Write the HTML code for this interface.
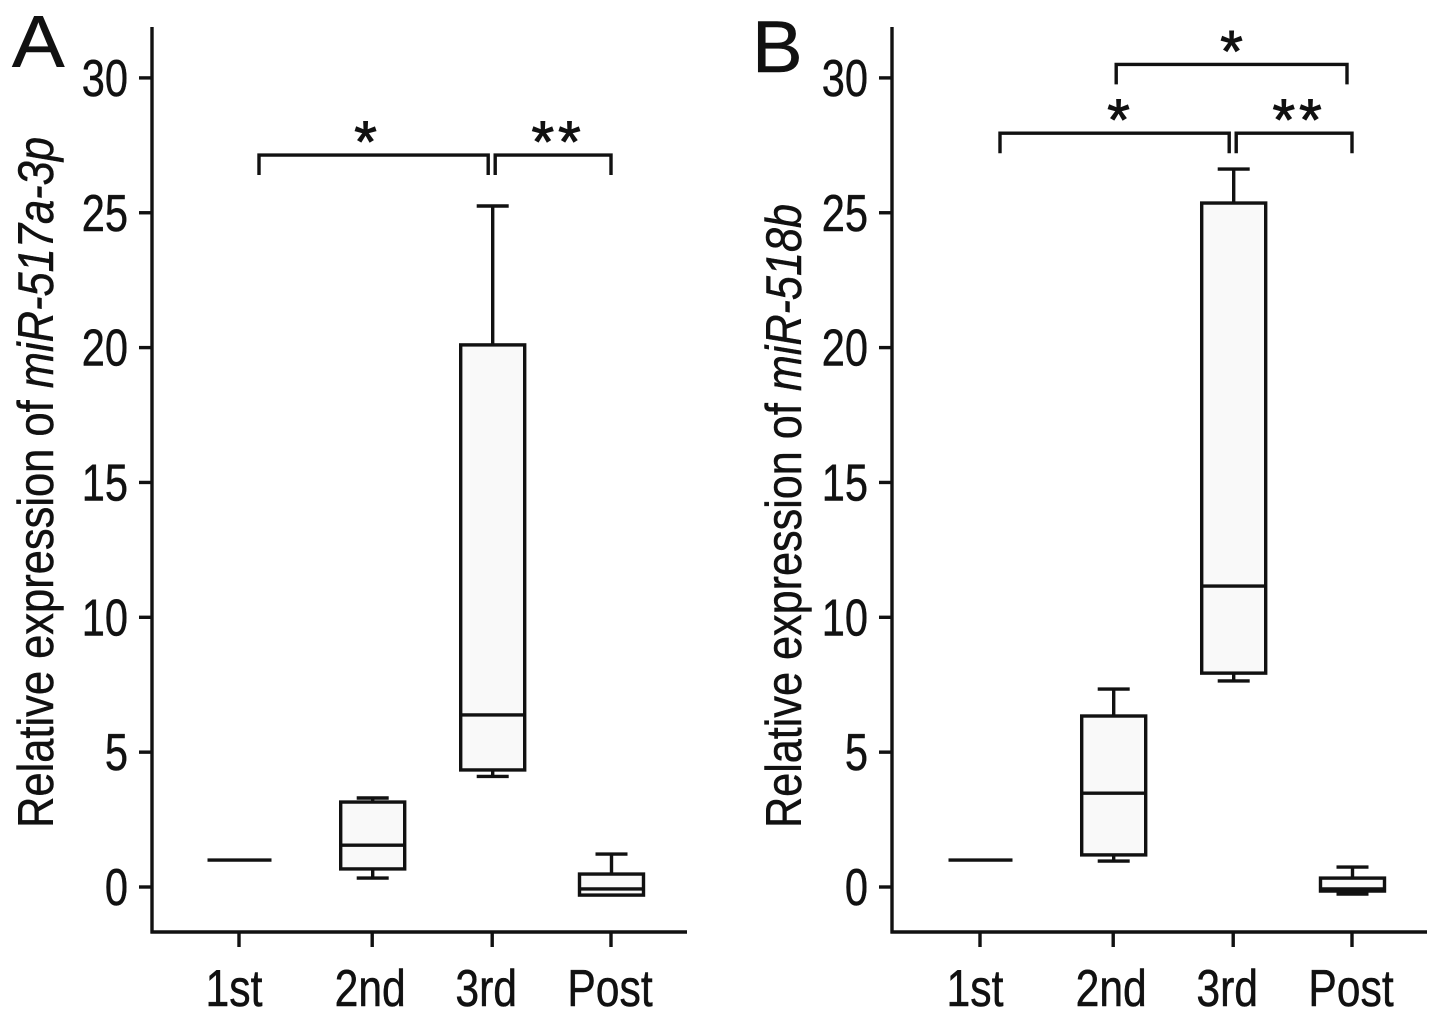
<!DOCTYPE html>
<html lang="en">
<head>
<meta charset="utf-8">
<title>Relative expression of miR-517a-3p and miR-518b</title>
<style>
html,body{margin:0;padding:0;background:#fff;}
#figure{display:block;width:1441px;height:1020px;}
text{font-family:"Liberation Sans",Arial,sans-serif;fill:#111;stroke:#111;stroke-width:0.5px;}
</style>
</head>
<body>
<svg id="figure" xmlns="http://www.w3.org/2000/svg" width="1441" height="1020" viewBox="0 0 1441 1020"></svg>
<script>
// ---- shared data ----
const categories = ['1st', '2nd', '3rd', 'Post'];
const categoryPositions = [0, 1.11, 2.11, 3.1];
const yTicks = [0, 5, 10, 15, 20, 25, 30];

// ---- panel A: miR-517a-3p ----
const aLow = [1.0, 0.33, 4.1, -0.3];
const aQ1 = [1.0, 0.67, 4.34, -0.3];
const aMedian = [1.0, 1.55, 6.38, -0.07];
const aQ3 = [1.0, 3.15, 20.1, 0.48];
const aHigh = [1.0, 3.3, 25.25, 1.22];
const aBrackets = [
  {from: 0, to: 2, level: 27.14, label: '*', labelShift: -8},
  {from: 2, to: 3, level: 27.14, label: '**', labelShift: 5}
];

// ---- panel B: miR-518b ----
const bLow = [1.0, 0.96, 7.64, -0.26];
const bQ1 = [1.0, 1.19, 7.93, -0.15];
const bMedian = [1.0, 3.48, 11.16, -0.07];
const bQ3 = [1.0, 6.34, 25.36, 0.33];
const bHigh = [1.0, 7.34, 26.62, 0.74];
const bBrackets = [
  {from: 1, to: 3, level: 30.5, label: '*', labelShift: 0},
  {from: 0, to: 2, level: 27.95, label: '*', labelShift: 4},
  {from: 2, to: 3, level: 27.95, label: '**', labelShift: 5}
];

// ---- axis functions ----
const svg = document.getElementById('figure');
const NS = 'http://www.w3.org/2000/svg';
const Y_ZERO = 887;
const Y_UNIT = 26.97;
const X_UNIT = 120;
const STROKE = 3.4;
const LABEL_NUDGE = [-3, 0, -4, 1];
function yScale(v) { return Y_ZERO - v * Y_UNIT; }
function xScale(origin, i) { return origin + categoryPositions[i] * X_UNIT; }

function make(tag, parent, attrs) {
  const el = document.createElementNS(NS, tag);
  for (const k in attrs) el.setAttribute(k, attrs[k]);
  parent.appendChild(el);
  return el;
}
function line(parent, x1, y1, x2, y2, w) {
  return make('line', parent, {x1: x1, y1: y1, x2: x2, y2: y2, stroke: '#111', 'stroke-width': w || STROKE, 'stroke-linecap': 'butt'});
}
function label(parent, str, x, y, size, sx, anchor) {
  const t = make('text', parent, {transform: 'translate(' + x + ',' + y + ') scale(' + sx + ',1)', 'font-size': size, 'text-anchor': anchor});
  t.textContent = str;
  return t;
}

function drawPanel(p) {
  const g = make('g', svg, {});
  
  

  const letter = label(g, p.letter, p.letterX, p.letterY, 73, p.letterScale, 'start');
  
  

  // axes
  const yAxis = line(g, p.axisX, 27, p.axisX, 933.5);
  
  
  const xAxis = line(g, p.axisX - 1.5, 932, p.axisX + 535, 932);
  
  

  // y ticks
  yTicks.forEach(function (v) {
    const tick = line(g, p.axisX - 13, yScale(v), p.axisX, yScale(v));
    
    
    const tl = label(g, String(v), p.axisX - 24, yScale(v) + 18, 52, 0.8, 'end');
    
    
  });

  // y title
  const title = make('text', g, {transform: 'translate(' + p.titleX + ',828) rotate(-90)', 'font-size': 50, textLength: p.titleLen, lengthAdjust: 'spacingAndGlyphs'});
  
  
  title.appendChild(document.createTextNode('Relative expression of '));
  const em = make('tspan', title, {'font-style': 'italic'});
  em.textContent = p.gene;

  // categories
  categories.forEach(function (c, i) {
    const cx = xScale(p.origin, i);
    const tick = line(g, cx, 932, cx, 947);
    
    
    const tl = label(g, c, cx - 2 + LABEL_NUDGE[i], 1006, 52, 0.82, 'middle');
    
    

    const box = make('g', g, {});
    
    
    const top = yScale(p.q3[i]);
    const bottom = yScale(p.q1[i]);
    const bx = cx + 0.5;
    if (p.high[i] > p.q3[i]) {
      line(box, bx, yScale(p.high[i]), bx, top);
      line(box, bx - 16, yScale(p.high[i]), bx + 16, yScale(p.high[i]));
    }
    if (p.low[i] < p.q1[i]) {
      line(box, bx, bottom, bx, yScale(p.low[i]));
      line(box, bx - 16, yScale(p.low[i]), bx + 16, yScale(p.low[i]));
    }
    if (p.q3[i] > p.q1[i]) {
      make('rect', box, {x: bx - 32, y: top, width: 64, height: bottom - top, fill: '#f9f9f9', stroke: '#111', 'stroke-width': STROKE});
    }
    line(box, bx - 32, yScale(p.median[i]), bx + 32, yScale(p.median[i]));
  });

  // significance brackets
  p.brackets.forEach(function (b, n) {
    const grp = make('g', g, {});
    
    
    const chained = p.brackets.some(function (o) { return o !== b && o.level === b.level; });
    const x1 = xScale(p.origin, b.from) + (b.from === 0 ? 20 : 3);
    const x2 = xScale(p.origin, b.to) + (b.to === 3 ? (chained ? 0 : -5) : -4);
    const y = yScale(b.level);
    make('path', grp, {d: 'M' + x1 + ' ' + (y + 20) + 'V' + y + 'H' + x2 + 'V' + (y + 20), fill: 'none', stroke: '#111', 'stroke-width': STROKE});
    const star = make('text', grp, {x: (x1 + x2) / 2 + b.labelShift, y: y + 7, 'font-size': 58, 'text-anchor': 'middle', 'letter-spacing': b.label.length > 1 ? 4 : 0, style: 'stroke-width:1px'});
    star.textContent = b.label;
  });
}

drawPanel({id: 'a', letter: 'A', letterX: 12, letterY: 67, letterScale: 1.08, axisX: 152, origin: 239, titleX: 53, titleLen: 691, gene: 'miR-517a-3p',
  low: aLow, q1: aQ1, median: aMedian, q3: aQ3, high: aHigh, brackets: aBrackets});
drawPanel({id: 'b', letter: 'B', letterX: 752, letterY: 72, letterScale: 1.04, axisX: 892, origin: 980, titleX: 801, titleLen: 624, gene: 'miR-518b',
  low: bLow, q1: bQ1, median: bMedian, q3: bQ3, high: bHigh, brackets: bBrackets});

// bottom of the image crops the category labels
const crop = make('rect', svg, {x: 0, y: 1008, width: 1441, height: 12, fill: '#fff'});


</script>
</body>
</html>
